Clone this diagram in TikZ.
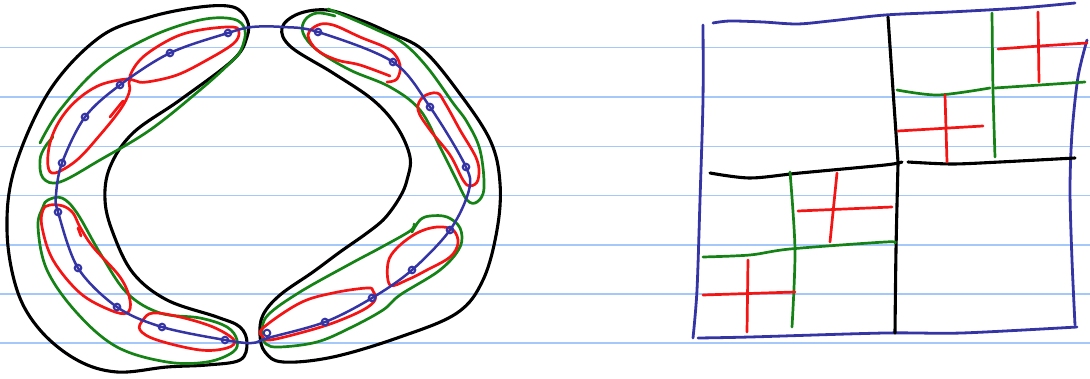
\documentclass[tikz,border=0pt]{standalone}
\usetikzlibrary{calc}
\definecolor{ruleblue}{RGB}{165,200,250}
\definecolor{inkblue}{RGB}{52,52,165}
\definecolor{inkgreen}{RGB}{20,130,20}
\definecolor{inkred}{RGB}{245,20,20}
\begin{document}
\begin{tikzpicture}[x=1pt,y=-1pt,
  rule/.style={ruleblue,line width=1.1pt},
  blk/.style={black,line width=3.1pt,line cap=round,line join=round},
  grn/.style={inkgreen,line width=2.7pt,line cap=round,line join=round},
  rd/.style={inkred,line width=2.7pt,line cap=round,line join=round},
  bl/.style={inkblue,line width=2.5pt,line cap=round,line join=round},
  dotc/.style={inkblue,line width=2pt}]
\useasboundingbox (0,0) rectangle (1090,379);
% ruled paper
\foreach \yy in {-0.5,47.5,97,146.5,195.5,245,294,343}
  \draw[rule] (0,\yy) -- (1090,\yy);

% ===== left figure =====
% black blobs
\draw[blk] plot[smooth cycle,tension=0.6] coordinates {(247,20) (233,7) (200,7) (150,17) (100,37) (50,90) (15,167) (7,230) (17,290) (40,330) (77,360) (117,372) (167,367) (207,365) (240,360) (247,343) (240,327) (217,317) (167,300) (133,273) (113,233) (105,200) (110,167) (133,133) (180,100) (233,60) (247,37)};
\draw[blk] plot[smooth cycle,tension=0.6] coordinates {(282,28) (298,14) (327,10) (360,20) (390,33) (423,50) (457,90) (490,140) (500,183) (497,230) (483,280) (457,313) (400,337) (333,357) (283,362) (265,352) (260,335) (263,315) (280,295) (313,272) (340,252) (367,233) (385,218) (400,197) (407,180) (410,157) (397,127) (373,100) (333,73) (291,47)};

% green loops
\draw[grn] plot[smooth,tension=0.6] coordinates {(40,143) (60,110) (100,67) (150,37) (200,20) (233,19) (245,30) (241,50) (230,63) (200,90) (150,130) (100,160) (60,182) (43,178) (40,160) (45,147) (53,137)};
\draw[grn] plot[smooth cycle,tension=0.6] coordinates {(43,207) (38,227) (47,270) (77,313) (117,347) (167,362) (207,362) (233,352) (237,340) (227,327) (200,318) (160,313) (127,293) (100,253) (77,213) (62,198) (48,200)};
\draw[grn] plot[smooth,tension=0.6] coordinates {(335,16) (317,13) (305,20) (303,33) (317,50) (350,70) (390,87) (420,110) (440,147) (455,177) (467,200) (477,202) (484,188) (480,150) (467,122) (453,103) (427,67) (403,43) (377,30) (350,18) (328,9)};
\draw[grn] plot[smooth,tension=0.6] coordinates {(412,232) (420,220) (430,216) (447,217) (460,228) (460,247) (440,270) (400,295) (383,310) (350,328) (317,342) (280,347) (266,344) (262,332) (268,315) (300,292) (350,264) (380,248) (410,231) (414,224)};

% red loops
\draw[rd] plot[smooth cycle,tension=0.6] coordinates {(233,27) (200,30) (173,38) (143,57) (130,76) (136,81) (147,82) (177,75) (207,60) (233,44) (239,33)};
\draw[rd] plot[smooth cycle,tension=0.6] coordinates {(127,79) (100,85) (77,100) (60,120) (50,143) (48,166) (55,173) (77,160) (100,135) (120,110) (129,93) (129,83)};
\draw[rd] (110,117) -- (123,101);
\draw[rd] plot[smooth cycle,tension=0.6] coordinates {(43,210) (42,227) (53,260) (80,293) (110,310) (127,313) (130,300) (120,277) (93,247) (80,227) (73,213) (63,206) (50,205)};
\draw[rd] (78,228) -- (81,236);
\draw[rd] plot[smooth cycle,tension=0.6] coordinates {(143,320) (140,330) (157,340) (200,350) (227,348) (234,340) (213,327) (180,317) (153,313)};
\draw[rd] plot[smooth,tension=0.6] coordinates {(390,76) (360,65) (337,60) (317,50) (308,35) (318,25) (333,25) (360,37) (390,50) (400,65) (397,79) (387,82)};
\draw[rd] plot[smooth cycle,tension=0.6] coordinates {(437,93) (423,97) (418,110) (430,130) (450,155) (463,180) (470,186) (478,180) (477,160) (460,130) (445,103)};
\draw[rd] plot[smooth cycle,tension=0.6] coordinates {(263,328) (263,337) (270,340) (300,333) (333,323) (363,310) (375,300) (373,291) (367,288) (333,293) (300,303)};
\draw[rd] plot[smooth cycle,tension=0.6] coordinates {(390,285) (388,263) (397,248) (417,233) (437,227) (453,230) (458,243) (450,257) (427,270) (407,280)};

% blue ring
\draw[bl] plot[smooth cycle,tension=0.55] coordinates {(228,33) (170,53) (120,85) (85,117) (62,163) (56,195) (58,212) (78,268) (117,307) (162,327) (225,340) (252,343) (268,338) (325,322) (372,298) (412,270) (450,230) (469,190) (465,165) (430,107) (393,62) (318,32) (283,27) (252,27)};
% blue dots
\foreach \p in {(228,33),(170,53),(120,85),(85,117),(62,163),(58,212),(78,268),(117,307),(162,327),(225,340),(267,333),(325,322),(372,298),(412,270),(450,230),(466,167),(430,107),(393,62),(318,32)}
  \draw[dotc] \p circle (3.3);

% ===== right figure =====
% outer blue frame
\draw[bl,line width=2.8pt] plot[smooth,tension=0.5] coordinates {(703,25) (703,100) (700,200) (697,290) (693,338)};
\draw[bl,line width=2.8pt] plot[smooth,tension=0.5] coordinates {(713,23) (730,21) (763,22) (797,24) (830,21) (885,15) (950,12) (1020,8) (1075,3)};
\draw[bl,line width=2.8pt] plot[smooth,tension=0.5] coordinates {(1087,40) (1078,77) (1072,133) (1070,190) (1072,260) (1075,325)};
\draw[bl,line width=2.8pt] plot[smooth,tension=0.5] coordinates {(698,338) (750,337) (885,333) (962,333) (1077,327)};
% black quarters
\draw[blk] plot[smooth,tension=0.5] coordinates {(888,17) (893,90) (898,162)};
\draw[blk] plot[smooth,tension=0.5] coordinates {(898,164) (896,250) (895,333)};
\draw[blk] plot[smooth,tension=0.5] coordinates {(710,173) (750,178) (800,173) (885,165) (902,162)};
\draw[blk] plot[smooth,tension=0.5] coordinates {(908,162) (952,164) (1000,162) (1075,158)};
% upper right quadrant
\draw[grn] plot[smooth,tension=0.5] coordinates {(992,13) (993,90) (995,157)};
\draw[grn] plot[smooth,tension=0.5] coordinates {(897,90) (938,95) (990,88)};
\draw[grn] plot[smooth,tension=0.5] coordinates {(995,88) (1040,85) (1085,82)};
\draw[rd] (1038,12) -- (1039,82);
\draw[rd] plot[smooth,tension=0.5] coordinates {(998,49) (1040,46) (1087,43)};
\draw[rd] (945,95) -- (947,162);
\draw[rd] (898,131) -- (983,126);
% lower left quadrant
\draw[grn] plot[smooth,tension=0.5] coordinates {(790,172) (795,250) (792,327)};
\draw[grn] plot[smooth,tension=0.5] coordinates {(703,257) (750,255) (790,249) (885,242) (895,243)};
\draw[rd] (837,173) -- (830,242);
\draw[rd] (798,211) -- (892,207);
\draw[rd] (748,260) -- (747,332);
\draw[rd] (703,295) -- (795,292);
\end{tikzpicture}
\end{document}
